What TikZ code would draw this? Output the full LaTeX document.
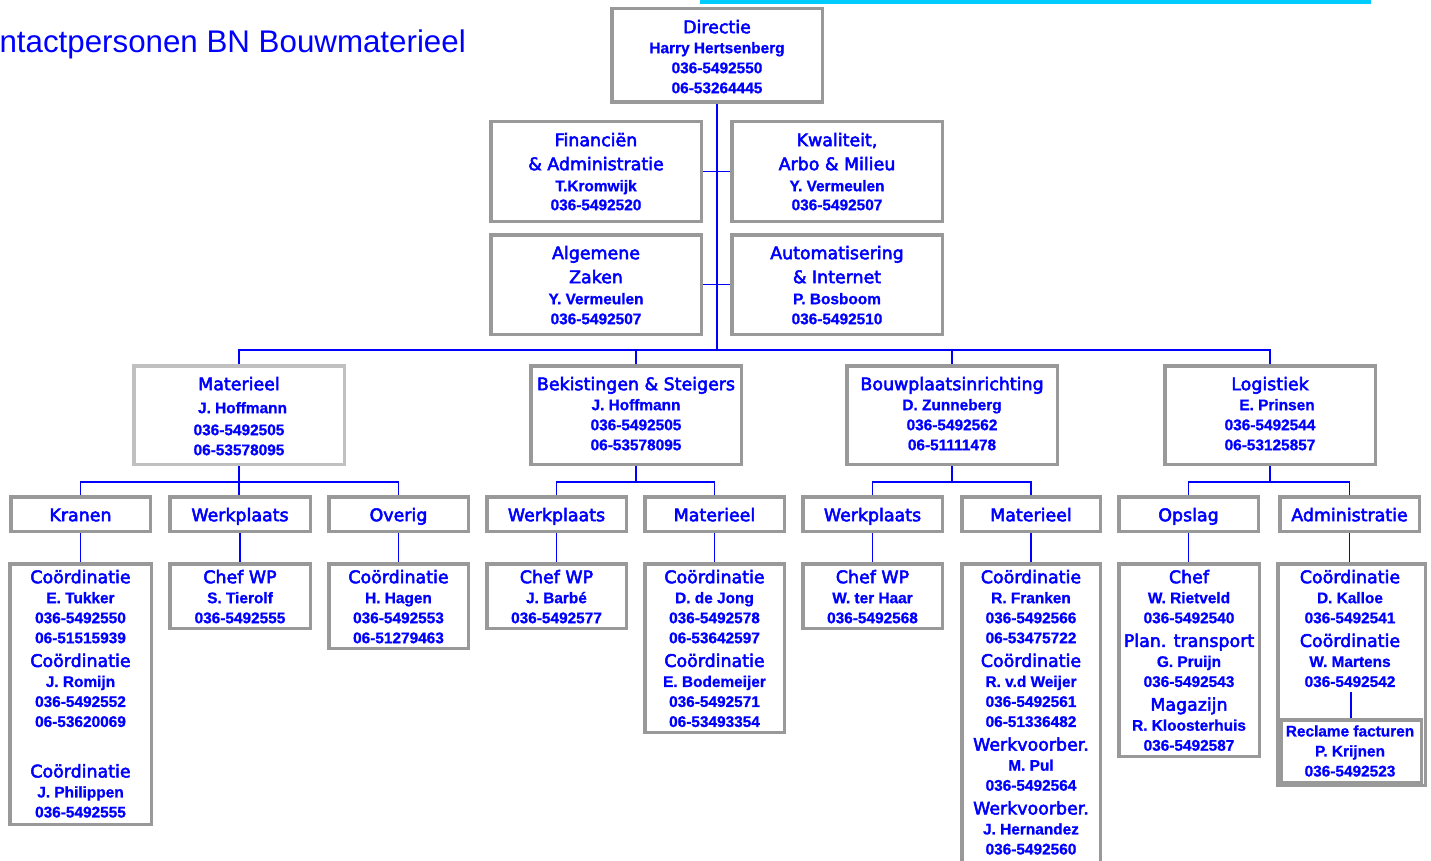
\documentclass[tikz,border=0pt]{standalone}
\usepackage{fontspec}
\setmainfont{Liberation Sans}[BoldFeatures={FakeBold=1}]
\newfontfamily\tfont{DejaVu Sans}[FakeBold=3]
\definecolor{bord}{RGB}{153,153,153}
\definecolor{bordl}{RGB}{192,192,192}
\definecolor{cyanbar}{RGB}{0,204,255}
\definecolor{tblue}{RGB}{0,0,255}
\newcommand\T[1]{{\tfont\mdseries\fontsize{17.4}{20}\selectfont #1}}
\newcommand\FS{\rule{0pt}{15pt}}
\newcommand\bx[6]{\node[box,#6,minimum width={#4-#2-3.5},minimum height={#5-#3-3.5}] (#1) at ({(#2+#4)/2},{(#3+#5)/2}) {};}
\newcommand\tx[4]{\node[txt] (#1) at (#2,#3) {\FS #4};}
\tikzset{
  box/.style={draw=bord,line width=3.5pt,inner sep=0pt,rectangle},
  txt/.style={anchor=north,inner sep=0pt,align=center,text=tblue,font=\fontsize{15.4}{20}\selectfont\bfseries},
  conn/.style={draw=tblue,line width=1.2pt}
}
\begin{document}
\begin{tikzpicture}[x=1pt,y=-1pt]
\useasboundingbox (0,0) rectangle (1431,861);
\clip (0,0) rectangle (1431,861);
\fill[cyanbar] (700,0) rectangle (1371,4.5);
\node[anchor=base east,inner sep=0pt,text=tblue,font=\fontsize{31.3}{36}\selectfont] (head) at (466,53) {ntactpersonen BN Bouwmaterieel};
% level 0/1
\bx{dir}{610}{7}{824}{104}{}
\tx{dirt}{717}{18}{\T{Directie}\\Harry Hertsenberg\\036-5492550\\06-53264445}
\bx{fin}{489}{120}{703}{223}{}
\tx{fint}{596}{131}{\T{Financiën}\\[4pt]\T{\& Administratie}\\[1pt]T.Kromwijk\\[-1pt]036-5492520}
\bx{kwa}{730}{120}{944}{223}{}
\tx{kwat}{837}{131}{\T{Kwaliteit,}\\[4pt]\T{Arbo \& Milieu}\\[1pt]Y. Vermeulen\\[-1pt]036-5492507}
\bx{alg}{489}{233}{703}{336}{}
\tx{algt}{596}{244}{\T{Algemene}\\[4pt]\T{Zaken}\\[1pt]Y. Vermeulen\\036-5492507}
\bx{aut}{730}{233}{944}{336}{}
\tx{autt}{837}{244}{\T{Automatisering}\\[4pt]\T{\& Internet}\\[1pt]P. Bosboom\\036-5492510}
% level 2
\bx{mat}{132}{364}{346}{466}{draw=bordl}
\tx{matt}{239}{375}{\T{Materieel}\\[3pt]\hspace*{7pt}J. Hoffmann\\[2pt]036-5492505\\06-53578095}
\bx{bek}{529}{364}{743}{466}{}
\tx{bekt}{636}{375}{\T{Bekistingen \& Steigers}\\J. Hoffmann\\036-5492505\\06-53578095}
\bx{bou}{845}{364}{1059}{466}{}
\tx{bout}{952}{375}{\T{Bouwplaatsinrichting}\\D. Zunneberg\\036-5492562\\06-51111478}
\bx{log}{1163}{364}{1377}{466}{}
\tx{logt}{1270}{375}{\T{Logistiek}\\\hspace*{14pt}E. Prinsen\\036-5492544\\06-53125857}
% level 3
\bx{kra}{9}{495}{152}{533}{}
\tx{krat}{80.5}{506}{\T{Kranen}}
\bx{wpa}{168}{495}{312}{533}{}
\tx{wpat}{240}{506}{\T{Werkplaats}}
\bx{ove}{327}{495}{470}{533}{}
\tx{ovet}{398.5}{506}{\T{Overig}}
\bx{wpb}{485}{495}{628}{533}{}
\tx{wpbt}{556.5}{506}{\T{Werkplaats}}
\bx{mab}{643}{495}{786}{533}{}
\tx{mabt}{714.5}{506}{\T{Materieel}}
\bx{wpc}{801}{495}{944}{533}{}
\tx{wpct}{872.5}{506}{\T{Werkplaats}}
\bx{mac}{960}{495}{1102}{533}{}
\tx{mact}{1031}{506}{\T{Materieel}}
\bx{ops}{1117}{495}{1260}{533}{}
\tx{opst}{1188.5}{506}{\T{Opslag}}
\bx{adm}{1278}{495}{1421}{533}{}
\tx{admt}{1349.5}{506}{\T{Administratie}}
% level 4
\bx{kra4}{8}{562}{153}{826}{}
\tx{kra4t}{80.5}{568}{\T{Coördinatie}\\E. Tukker\\036-5492550\\06-51515939\\[3.75pt]\T{Coördinatie}\\J. Romijn\\036-5492552\\06-53620069\\[30.5pt]\T{Coördinatie}\\J. Philippen\\036-5492555}
\bx{wpa4}{168}{562}{312}{630}{}
\tx{wpa4t}{240}{568}{\T{Chef WP}\\S. Tierolf\\036-5492555}
\bx{ove4}{327}{562}{470}{650}{}
\tx{ove4t}{398.5}{568}{\T{Coördinatie}\\H. Hagen\\036-5492553\\06-51279463}
\bx{wpb4}{485}{562}{628}{630}{}
\tx{wpb4t}{556.5}{568}{\T{Chef WP}\\J. Barbé\\036-5492577}
\bx{mab4}{643}{562}{786}{734}{}
\tx{mab4t}{714.5}{568}{\T{Coördinatie}\\D. de Jong\\036-5492578\\06-53642597\\[3.75pt]\T{Coördinatie}\\E. Bodemeijer\\036-5492571\\06-53493354}
\bx{wpc4}{801}{562}{944}{630}{}
\tx{wpc4t}{872.5}{568}{\T{Chef WP}\\W. ter Haar\\036-5492568}
\bx{mac4}{960}{562}{1102}{880}{}
\tx{mac4t}{1031}{568}{\T{Coördinatie}\\R. Franken\\036-5492566\\06-53475722\\[3.75pt]\T{Coördinatie}\\R. v.d Weijer\\036-5492561\\06-51336482\\[3.75pt]\T{Werkvoorber.}\\M. Pul\\036-5492564\\[3.75pt]\T{Werkvoorber.}\\J. Hernandez\\036-5492560}
\bx{ops4}{1117}{562}{1261}{758}{}
\tx{ops4t}{1189}{568}{\T{Chef}\\W. Rietveld\\036-5492540\\[3.75pt]\T{Plan. transport}\\G. Pruijn\\036-5492543\\[3.75pt]\T{Magazijn}\\R. Kloosterhuis\\036-5492587}
\bx{adm4}{1276}{562}{1427}{787}{}
\tx{adm4t}{1350}{568}{\T{Coördinatie}\\D. Kalloe\\036-5492541\\[3.75pt]\T{Coördinatie}\\W. Martens\\036-5492542}
\bx{rec}{1279}{718}{1423}{784}{}
\tx{rect}{1350}{721.25}{Reclame facturen\\P. Krijnen\\036-5492523}
% connectors
\coordinate (bus) at (716,350);
\draw[conn] (dir.south) -- (dir.south |- bus);
\draw[conn] (fin) -- (kwa);
\draw[conn] (alg) -- (aut);
\draw[conn] (mat.north) |- (bus);
\draw[conn] (log.north) |- (bus);
\draw[conn] (bek.north) -- (bek.north |- bus);
\draw[conn] (bou.north) -- (bou.north |- bus);
\coordinate (mb) at (239,482);
\coordinate (bb) at (636,482);
\coordinate (ob) at (952,482);
\coordinate (lb) at (1270,482);
\draw[conn] (mat.south) -- (mb);
\draw[conn] (kra.north) |- (mb) -| (ove.north);
\draw[conn] (mb) -- (mb |- wpa.north);
\draw[conn] (bek.south) -- (bb);
\draw[conn] (wpb.north) |- (bb) -| (mab.north);
\draw[conn] (bou.south) -- (ob);
\draw[conn] (wpc.north) |- (ob) -| (mac.north);
\draw[conn] (log.south) -- (lb);
\draw[conn] (ops.north) |- (lb) -| (adm.north);
\draw[conn] (kra.south) -- (kra.south |- kra4.north);
\draw[conn] (wpa.south) -- (wpa.south |- wpa4.north);
\draw[conn] (ove.south) -- (ove.south |- ove4.north);
\draw[conn] (wpb.south) -- (wpb.south |- wpb4.north);
\draw[conn] (mab.south) -- (mab.south |- mab4.north);
\draw[conn] (wpc.south) -- (wpc.south |- wpc4.north);
\draw[conn] (mac.south) -- (mac.south |- mac4.north);
\draw[conn] (ops.south) -- (ops.south |- ops4.north);
\draw[conn] (adm.south) -- (adm.south |- adm4.north);
\coordinate (adme) at (1351,692);
\draw[conn] (adme) -- (rec.north);
\end{tikzpicture}
\end{document}
